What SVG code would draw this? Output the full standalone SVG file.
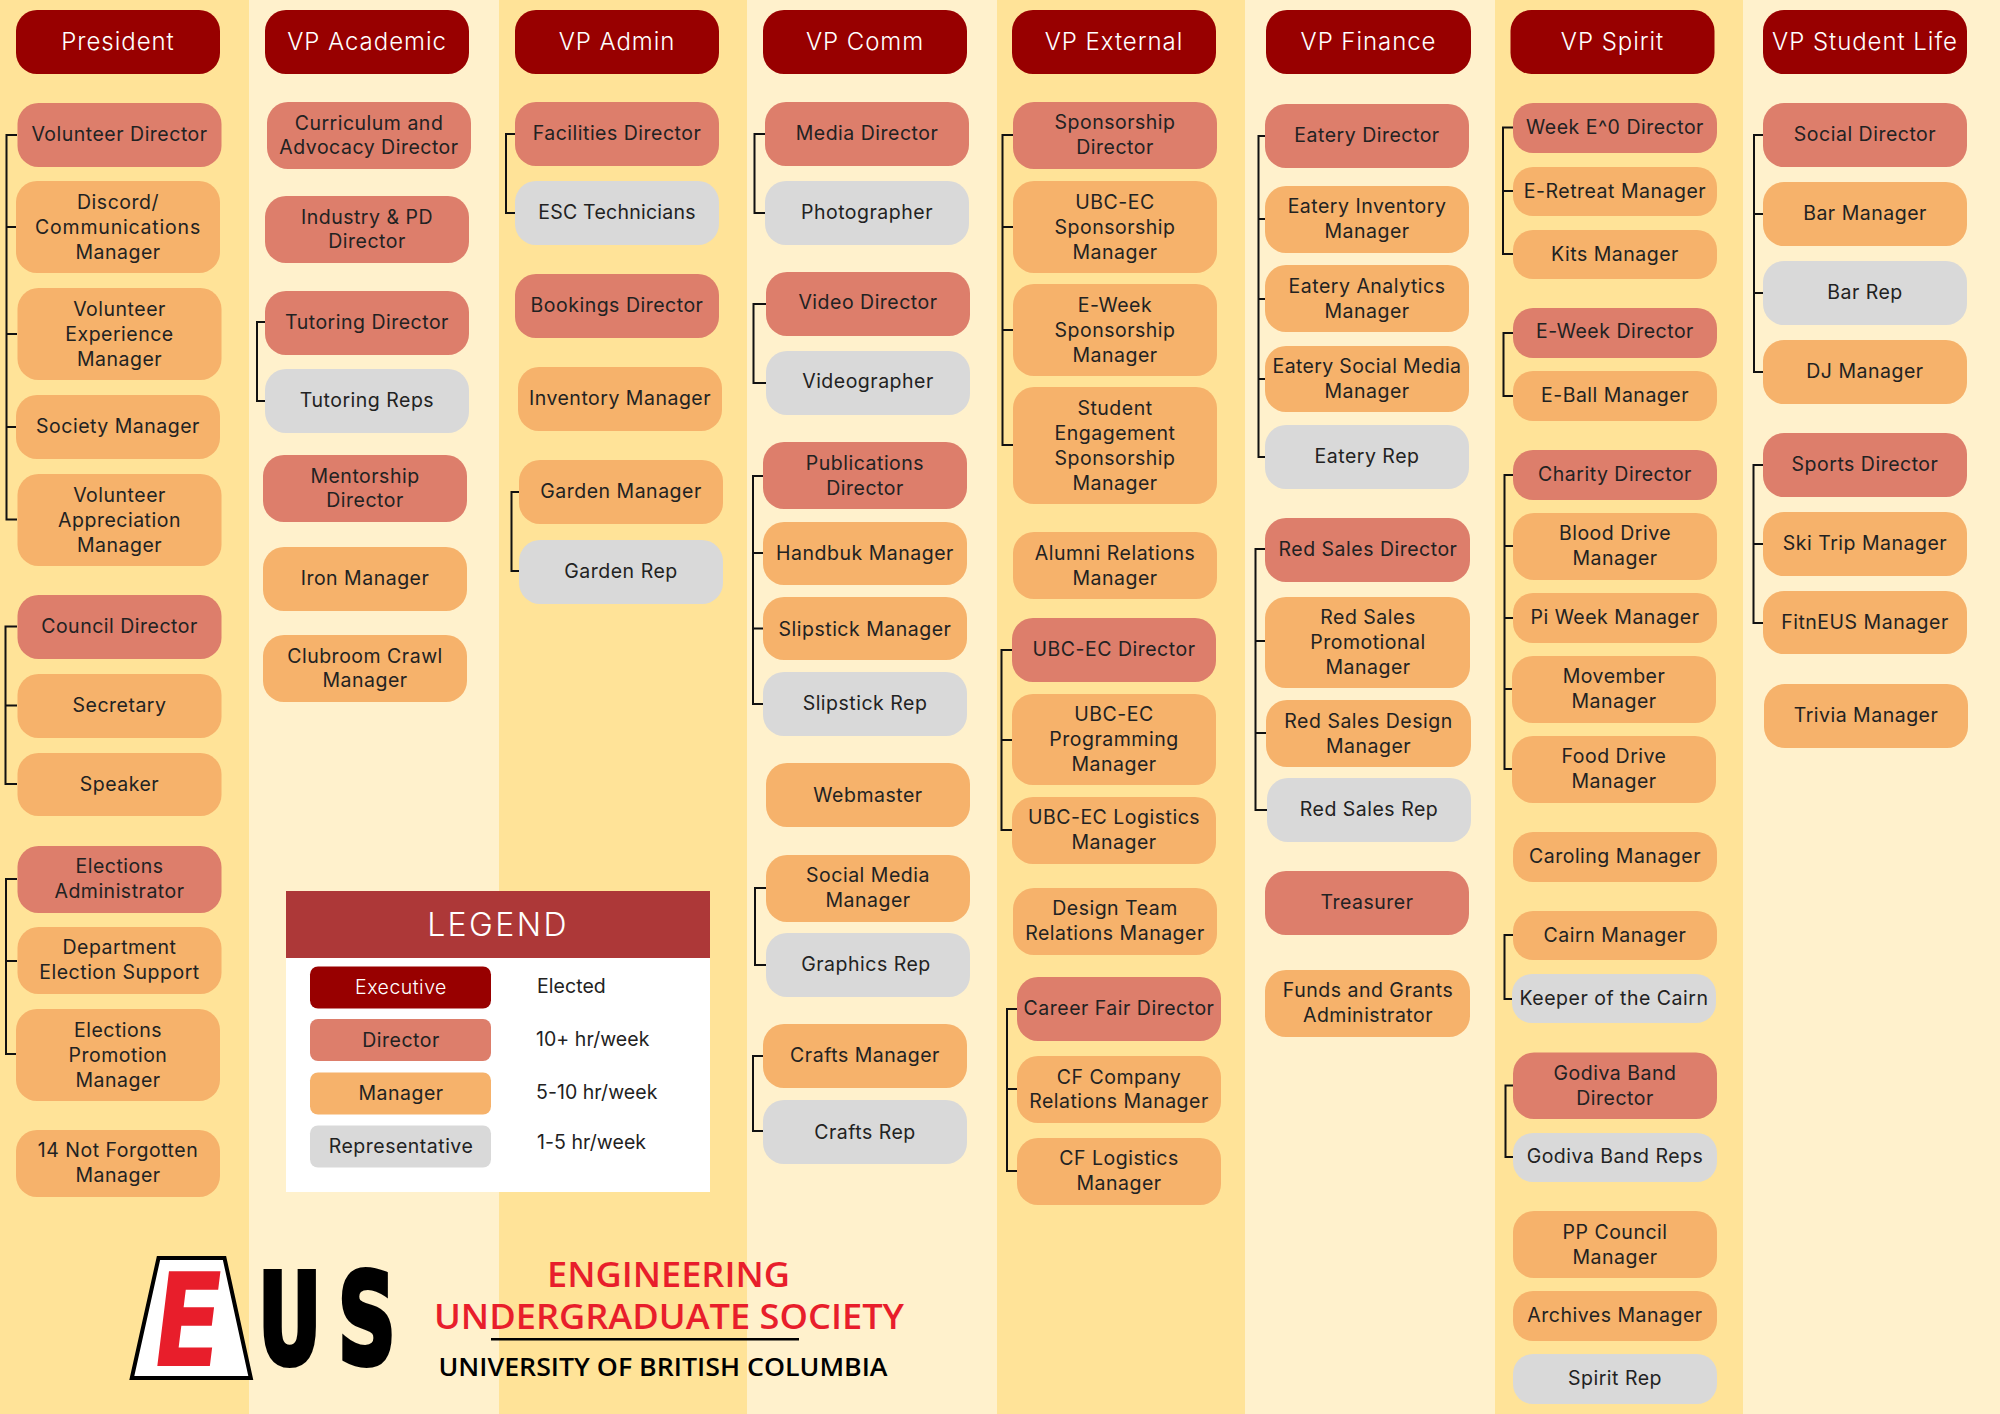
<svg xmlns="http://www.w3.org/2000/svg" width="2000" height="1414" viewBox="0 0 2000 1414">
<style>
.bd{fill:#ffe398}.bl{fill:#fff1cc}
rect.x{fill:#980000}rect.d{fill:#dd7e6b}rect.m{fill:#f6b26b}rect.r{fill:#d9d9d9}
text{font-family:Inter,"Noto Sans",sans-serif}
g.n text,g.lg text{font-size:19.5px;letter-spacing:.5px;fill:#222;text-anchor:middle;transform:translateY(.8px)}
g.h text{font-size:24px;font-weight:300;letter-spacing:.95px;fill:#fff;text-anchor:middle}
#connectors path{fill:none;stroke:#111;stroke-width:2}
.wm{font-family:"Open Sans",sans-serif;font-weight:600}
.lf{font-family:"DejaVu Sans",sans-serif;font-weight:700}
g.lg text.lv{font-size:19.5px;letter-spacing:.05px;text-anchor:start}
</style>
<g id="bands">
<rect class="bd" x="0" y="0" width="249" height="1414"/>
<rect class="bl" x="249" y="0" width="250" height="1414"/>
<rect class="bd" x="499" y="0" width="248" height="1414"/>
<rect class="bl" x="747" y="0" width="250" height="1414"/>
<rect class="bd" x="997" y="0" width="248" height="1414"/>
<rect class="bl" x="1245" y="0" width="250" height="1414"/>
<rect class="bd" x="1495" y="0" width="248" height="1414"/>
<rect class="bl" x="1743" y="0" width="257" height="1414"/>
</g>
<g id="connectors">
<path d="M17 135H6.5V519.5H17M6.5 227H16M6.5 334H17M6.5 427H16"/>
<path d="M17 626.5H5.5V784H17M5.5 705.5H17"/>
<path d="M17 879H6V1054H16M6 961H17"/>
<path d="M265 322H257V401H265"/>
<path d="M515 134H506V213H515"/>
<path d="M519 492H511.5V571H519"/>
<path d="M765 134H754.5V213H765"/>
<path d="M766 304H753.5V383H766"/>
<path d="M763 476H753V704H763M753 553H763M753 628.5H763"/>
<path d="M766 888H755V965H766"/>
<path d="M763 1056H753V1131H763"/>
<path d="M1013 135H1002.5V445H1013M1002.5 227H1013M1002.5 330H1013"/>
<path d="M1012 650H1001.5V830H1012M1001.5 740H1012"/>
<path d="M1017 1009H1007V1171H1017M1007 1089H1017"/>
<path d="M1265 136H1258.5V457H1265M1258.5 219H1265M1258.5 299H1265M1258.5 379H1265"/>
<path d="M1265 549H1255.5V810H1267M1255.5 641H1265M1255.5 733H1266"/>
<path d="M1513 127.5H1503V254H1513M1503 191H1513"/>
<path d="M1513 333H1503.5V396H1513"/>
<path d="M1513 475H1504.5V769H1512M1504.5 546H1513M1504.5 618H1513M1504.5 689H1512"/>
<path d="M1513 935H1504.5V999H1512"/>
<path d="M1513 1085.5H1505.5V1157H1513"/>
<path d="M1763 135H1754V372H1763M1754 214H1763M1754 293H1763"/>
<path d="M1763 465H1753.5V623H1763M1753.5 544H1763"/>
</g>
<g id="h1" class="h"><rect class="x" x="16" y="10" width="204" height="64" rx="21"/><text x="118" y="49.5">President</text></g>
<g id="h2" class="h"><rect class="x" x="265" y="10" width="204" height="64" rx="21"/><text x="367" y="49.5">VP Academic</text></g>
<g id="h3" class="h"><rect class="x" x="515" y="10" width="204" height="64" rx="21"/><text x="617" y="49.5">VP Admin</text></g>
<g id="h4" class="h"><rect class="x" x="763" y="10" width="204" height="64" rx="21"/><text x="865" y="49.5">VP Comm</text></g>
<g id="h5" class="h"><rect class="x" x="1012" y="10" width="204" height="64" rx="21"/><text x="1114" y="49.5">VP External</text></g>
<g id="h6" class="h"><rect class="x" x="1266" y="10" width="205" height="64" rx="21"/><text x="1368.5" y="49.5">VP Finance</text></g>
<g id="h7" class="h"><rect class="x" x="1510.5" y="10" width="204" height="64" rx="21"/><text x="1612.5" y="49.5">VP Spirit</text></g>
<g id="h8" class="h"><rect class="x" x="1763" y="10" width="204" height="64" rx="21"/><text x="1865" y="49.5">VP Student Life</text></g>

<g id="n-volunteer-director" class="n"><rect class="d" x="17.5" y="103" width="204" height="64" rx="21"/><text x="119.5" y="140">Volunteer Director</text></g>
<g id="n-discord" class="n"><rect class="m" x="16" y="181" width="204" height="92" rx="21"/><text y="208"><tspan x="118">Discord/</tspan><tspan x="118" dy="25" style="letter-spacing:.8px">Communications</tspan><tspan x="118" dy="25">Manager</tspan></text></g>
<g id="n-vol-exp" class="n"><rect class="m" x="17.5" y="288" width="204" height="92" rx="21"/><text y="315"><tspan x="119.5">Volunteer</tspan><tspan x="119.5" dy="25">Experience</tspan><tspan x="119.5" dy="25">Manager</tspan></text></g>
<g id="n-society" class="n"><rect class="m" x="16" y="395" width="204" height="64" rx="21"/><text x="118" y="432">Society Manager</text></g>
<g id="n-vol-app" class="n"><rect class="m" x="17.5" y="474" width="204" height="92" rx="21"/><text y="501"><tspan x="119.5">Volunteer</tspan><tspan x="119.5" dy="25">Appreciation</tspan><tspan x="119.5" dy="25">Manager</tspan></text></g>
<g id="n-council" class="n"><rect class="d" x="17.5" y="595" width="204" height="64" rx="21"/><text x="119.5" y="632">Council Director</text></g>
<g id="n-secretary" class="n"><rect class="m" x="17.5" y="674" width="204" height="64" rx="21"/><text x="119.5" y="711">Secretary</text></g>
<g id="n-speaker" class="n"><rect class="m" x="17.5" y="753" width="204" height="63" rx="21"/><text x="119.5" y="790">Speaker</text></g>
<g id="n-elections-admin" class="n"><rect class="d" x="17.5" y="846" width="204" height="67" rx="21"/><text y="872.5"><tspan x="119.5">Elections</tspan><tspan x="119.5" dy="24.5">Administrator</tspan></text></g>
<g id="n-department" class="n"><rect class="m" x="17.5" y="927" width="204" height="67" rx="21"/><text y="953.5"><tspan x="119.5">Department</tspan><tspan x="119.5" dy="24.5">Election Support</tspan></text></g>
<g id="n-elections-promo" class="n"><rect class="m" x="16" y="1009" width="204" height="92" rx="21"/><text y="1036"><tspan x="118">Elections</tspan><tspan x="118" dy="25">Promotion</tspan><tspan x="118" dy="25">Manager</tspan></text></g>
<g id="n-14-not" class="n"><rect class="m" x="16" y="1130" width="204" height="67" rx="21"/><text y="1156.5"><tspan x="118">14 Not Forgotten</tspan><tspan x="118" dy="24.5">Manager</tspan></text></g>

<g id="n-curriculum" class="n"><rect class="d" x="267" y="102" width="204" height="67" rx="21"/><text y="129"><tspan x="369">Curriculum and</tspan><tspan x="369" dy="24.5">Advocacy Director</tspan></text></g>
<g id="n-industry" class="n"><rect class="d" x="265" y="196" width="204" height="67" rx="21"/><text y="223"><tspan x="367">Industry &amp; PD</tspan><tspan x="367" dy="24.5">Director</tspan></text></g>
<g id="n-tutoring-dir" class="n"><rect class="d" x="265" y="291" width="204" height="64" rx="21"/><text x="367" y="328">Tutoring Director</text></g>
<g id="n-tutoring-reps" class="n"><rect class="r" x="265" y="369" width="204" height="64" rx="21"/><text x="367" y="406">Tutoring Reps</text></g>
<g id="n-mentorship" class="n"><rect class="d" x="263" y="455" width="204" height="67" rx="21"/><text y="482"><tspan x="365">Mentorship</tspan><tspan x="365" dy="24.5">Director</tspan></text></g>
<g id="n-iron" class="n"><rect class="m" x="263" y="547" width="204" height="64" rx="21"/><text x="365" y="584">Iron Manager</text></g>
<g id="n-clubroom" class="n"><rect class="m" x="263" y="635" width="204" height="67" rx="21"/><text y="662"><tspan x="365">Clubroom Crawl</tspan><tspan x="365" dy="24.5">Manager</tspan></text></g>

<g id="n-facilities" class="n"><rect class="d" x="515" y="102" width="204" height="64" rx="21"/><text x="617" y="139">Facilities Director</text></g>
<g id="n-esc" class="n"><rect class="r" x="515" y="181" width="204" height="64" rx="21"/><text x="617" y="218" style="letter-spacing:.25px">ESC Technicians</text></g>
<g id="n-bookings" class="n"><rect class="d" x="515" y="274" width="204" height="64" rx="21"/><text x="617" y="311">Bookings Director</text></g>
<g id="n-inventory" class="n"><rect class="m" x="518" y="367" width="204" height="64" rx="21"/><text x="620" y="404">Inventory Manager</text></g>
<g id="n-garden-mgr" class="n"><rect class="m" x="519" y="460" width="204" height="64" rx="21"/><text x="621" y="497">Garden Manager</text></g>
<g id="n-garden-rep" class="n"><rect class="r" x="519" y="540" width="204" height="64" rx="21"/><text x="621" y="577">Garden Rep</text></g>

<g id="n-media" class="n"><rect class="d" x="765" y="102" width="204" height="64" rx="21"/><text x="867" y="139">Media Director</text></g>
<g id="n-photographer" class="n"><rect class="r" x="765" y="181" width="204" height="64" rx="21"/><text x="867" y="218">Photographer</text></g>
<g id="n-video" class="n"><rect class="d" x="766" y="272" width="204" height="64" rx="21"/><text x="868" y="308">Video Director</text></g>
<g id="n-videographer" class="n"><rect class="r" x="766" y="351" width="204" height="64" rx="21"/><text x="868" y="387">Videographer</text></g>
<g id="n-publications" class="n"><rect class="d" x="763" y="442" width="204" height="67" rx="21"/><text y="469"><tspan x="865">Publications</tspan><tspan x="865" dy="25">Director</tspan></text></g>
<g id="n-handbuk" class="n"><rect class="m" x="763" y="522" width="204" height="63" rx="21"/><text x="865" y="559.5">Handbuk Manager</text></g>
<g id="n-slipstick-mgr" class="n"><rect class="m" x="763" y="597" width="204" height="63" rx="21"/><text x="865" y="635">Slipstick Manager</text></g>
<g id="n-slipstick-rep" class="n"><rect class="r" x="763" y="672" width="204" height="64" rx="21"/><text x="865" y="709">Slipstick Rep</text></g>
<g id="n-webmaster" class="n"><rect class="m" x="766" y="763" width="204" height="64" rx="21"/><text x="868" y="801.5">Webmaster</text></g>
<g id="n-social-media" class="n"><rect class="m" x="766" y="855" width="204" height="67" rx="21"/><text y="881.5"><tspan x="868">Social Media</tspan><tspan x="868" dy="24.5">Manager</tspan></text></g>
<g id="n-graphics" class="n"><rect class="r" x="766" y="933" width="204" height="64" rx="21"/><text x="866" y="970.5">Graphics Rep</text></g>
<g id="n-crafts-mgr" class="n"><rect class="m" x="763" y="1024" width="204" height="64" rx="21"/><text x="865" y="1061.5">Crafts Manager</text></g>
<g id="n-crafts-rep" class="n"><rect class="r" x="763" y="1100" width="204" height="64" rx="21"/><text x="865" y="1138">Crafts Rep</text></g>

<g id="n-sponsorship" class="n"><rect class="d" x="1013" y="102" width="204" height="67" rx="21"/><text y="128.5"><tspan x="1115">Sponsorship</tspan><tspan x="1115" dy="24.5">Director</tspan></text></g>
<g id="n-ubcec-sponsor" class="n"><rect class="m" x="1013" y="181" width="204" height="92" rx="21"/><text y="208"><tspan x="1115">UBC-EC</tspan><tspan x="1115" dy="25">Sponsorship</tspan><tspan x="1115" dy="25">Manager</tspan></text></g>
<g id="n-eweek-sponsor" class="n"><rect class="m" x="1013" y="284" width="204" height="92" rx="21"/><text y="311"><tspan x="1115">E-Week</tspan><tspan x="1115" dy="25">Sponsorship</tspan><tspan x="1115" dy="25">Manager</tspan></text></g>
<g id="n-student-eng" class="n"><rect class="m" x="1013" y="387" width="204" height="117" rx="21"/><text y="414.5"><tspan x="1115">Student</tspan><tspan x="1115" dy="25">Engagement</tspan><tspan x="1115" dy="25">Sponsorship</tspan><tspan x="1115" dy="25">Manager</tspan></text></g>
<g id="n-alumni" class="n"><rect class="m" x="1013" y="532" width="204" height="67" rx="21"/><text y="559.5"><tspan x="1115">Alumni Relations</tspan><tspan x="1115" dy="24.5">Manager</tspan></text></g>
<g id="n-ubcec-dir" class="n"><rect class="d" x="1012" y="618" width="204" height="64" rx="21"/><text x="1114" y="655">UBC-EC Director</text></g>
<g id="n-ubcec-prog" class="n"><rect class="m" x="1012" y="694" width="204" height="91" rx="21"/><text y="720"><tspan x="1114">UBC-EC</tspan><tspan x="1114" dy="25">Programming</tspan><tspan x="1114" dy="25">Manager</tspan></text></g>
<g id="n-ubcec-log" class="n"><rect class="m" x="1012" y="797" width="204" height="67" rx="21"/><text y="823.5"><tspan x="1114">UBC-EC Logistics</tspan><tspan x="1114" dy="24.5">Manager</tspan></text></g>
<g id="n-design-team" class="n"><rect class="m" x="1013" y="888" width="204" height="67" rx="21"/><text y="914.5"><tspan x="1115">Design Team</tspan><tspan x="1115" dy="24.5">Relations Manager</tspan></text></g>
<g id="n-career" class="n"><rect class="d" x="1017" y="977" width="204" height="64" rx="21"/><text x="1119" y="1014">Career Fair Director</text></g>
<g id="n-cf-company" class="n"><rect class="m" x="1017" y="1056" width="204" height="67" rx="21"/><text y="1083"><tspan x="1119">CF Company</tspan><tspan x="1119" dy="24">Relations Manager</tspan></text></g>
<g id="n-cf-log" class="n"><rect class="m" x="1017" y="1138" width="204" height="67" rx="21"/><text y="1164"><tspan x="1119">CF Logistics</tspan><tspan x="1119" dy="25">Manager</tspan></text></g>

<g id="n-eatery-dir" class="n"><rect class="d" x="1265" y="104" width="204" height="64" rx="21"/><text x="1367" y="141.5">Eatery Director</text></g>
<g id="n-eatery-inv" class="n"><rect class="m" x="1265" y="186" width="204" height="67" rx="21"/><text y="212.5"><tspan x="1367">Eatery Inventory</tspan><tspan x="1367" dy="24.5">Manager</tspan></text></g>
<g id="n-eatery-ana" class="n"><rect class="m" x="1265" y="265" width="204" height="67" rx="21"/><text y="292.5"><tspan x="1367">Eatery Analytics</tspan><tspan x="1367" dy="24.5">Manager</tspan></text></g>
<g id="n-eatery-soc" class="n"><rect class="m" x="1265" y="346" width="204" height="66" rx="21"/><text y="372.5"><tspan x="1367" style="letter-spacing:.35px">Eatery Social Media</tspan><tspan x="1367" dy="24.5">Manager</tspan></text></g>
<g id="n-eatery-rep" class="n"><rect class="r" x="1265" y="425" width="204" height="64" rx="21"/><text x="1367" y="462.5">Eatery Rep</text></g>
<g id="n-red-dir" class="n"><rect class="d" x="1265" y="518" width="205" height="64" rx="21"/><text x="1368" y="555">Red Sales Director</text></g>
<g id="n-red-promo" class="n"><rect class="m" x="1265" y="597" width="205" height="91" rx="21"/><text y="623"><tspan x="1368">Red Sales</tspan><tspan x="1368" dy="25">Promotional</tspan><tspan x="1368" dy="25">Manager</tspan></text></g>
<g id="n-red-design" class="n"><rect class="m" x="1266" y="700" width="205" height="67" rx="21"/><text y="727"><tspan x="1368.5">Red Sales Design</tspan><tspan x="1368.5" dy="25">Manager</tspan></text></g>
<g id="n-red-rep" class="n"><rect class="r" x="1267" y="778" width="204" height="64" rx="21"/><text x="1369" y="815">Red Sales Rep</text></g>
<g id="n-treasurer" class="n"><rect class="d" x="1265" y="871" width="204" height="64" rx="21"/><text x="1367" y="908.5">Treasurer</text></g>
<g id="n-funds" class="n"><rect class="m" x="1265" y="970" width="205" height="67" rx="21"/><text y="996"><tspan x="1368">Funds and Grants</tspan><tspan x="1368" dy="25">Administrator</tspan></text></g>

<g id="n-week0" class="n"><rect class="d" x="1513" y="103" width="204" height="50" rx="20"/><text x="1615" y="133">Week E^0 Director</text></g>
<g id="n-eretreat" class="n"><rect class="m" x="1513" y="167" width="204" height="49" rx="20"/><text x="1615" y="197">E-Retreat Manager</text></g>
<g id="n-kits" class="n"><rect class="m" x="1513" y="230" width="204" height="49" rx="20"/><text x="1615" y="260">Kits Manager</text></g>
<g id="n-eweek" class="n"><rect class="d" x="1513" y="308" width="204" height="50" rx="20"/><text x="1615" y="337.5">E-Week Director</text></g>
<g id="n-eball" class="n"><rect class="m" x="1513" y="371" width="204" height="50" rx="20"/><text x="1615" y="401">E-Ball Manager</text></g>
<g id="n-charity" class="n"><rect class="d" x="1513" y="450" width="204" height="50" rx="20"/><text x="1615" y="480">Charity Director</text></g>
<g id="n-blood" class="n"><rect class="m" x="1513" y="513" width="204" height="67" rx="21"/><text y="539"><tspan x="1615">Blood Drive</tspan><tspan x="1615" dy="25">Manager</tspan></text></g>
<g id="n-pi" class="n"><rect class="m" x="1513" y="593" width="204" height="50" rx="20"/><text x="1615" y="623">Pi Week Manager</text></g>
<g id="n-movember" class="n"><rect class="m" x="1512" y="656" width="204" height="67" rx="21"/><text y="682"><tspan x="1614">Movember</tspan><tspan x="1614" dy="25">Manager</tspan></text></g>
<g id="n-food" class="n"><rect class="m" x="1512" y="736" width="204" height="67" rx="21"/><text y="762"><tspan x="1614">Food Drive</tspan><tspan x="1614" dy="25">Manager</tspan></text></g>
<g id="n-caroling" class="n"><rect class="m" x="1513" y="832" width="204" height="50" rx="20"/><text x="1615" y="862">Caroling Manager</text></g>
<g id="n-cairn" class="n"><rect class="m" x="1513" y="911" width="204" height="49" rx="20"/><text x="1615" y="941">Cairn Manager</text></g>
<g id="n-keeper" class="n"><rect class="r" x="1512" y="974" width="204" height="49" rx="20"/><text x="1614" y="1004">Keeper of the Cairn</text></g>
<g id="n-godiva" class="n"><rect class="d" x="1513" y="1052.5" width="204" height="66.5" rx="21"/><text y="1079"><tspan x="1615">Godiva Band</tspan><tspan x="1615" dy="25">Director</tspan></text></g>
<g id="n-godiva-reps" class="n"><rect class="r" x="1513" y="1133" width="204" height="49" rx="20"/><text x="1615" y="1162">Godiva Band Reps</text></g>
<g id="n-pp" class="n"><rect class="m" x="1513" y="1211" width="204" height="67" rx="21"/><text y="1238"><tspan x="1615">PP Council</tspan><tspan x="1615" dy="25">Manager</tspan></text></g>
<g id="n-archives" class="n"><rect class="m" x="1513" y="1291" width="204" height="50" rx="20"/><text x="1615" y="1321">Archives Manager</text></g>
<g id="n-spirit-rep" class="n"><rect class="r" x="1513" y="1354" width="204" height="50" rx="20"/><text x="1615" y="1384">Spirit Rep</text></g>

<g id="n-social" class="n"><rect class="d" x="1763" y="103" width="204" height="64" rx="21"/><text x="1865" y="140">Social Director</text></g>
<g id="n-bar-mgr" class="n"><rect class="m" x="1763" y="182" width="204" height="64" rx="21"/><text x="1865" y="219">Bar Manager</text></g>
<g id="n-bar-rep" class="n"><rect class="r" x="1763" y="261" width="204" height="64" rx="21"/><text x="1865" y="298">Bar Rep</text></g>
<g id="n-dj" class="n"><rect class="m" x="1763" y="340" width="204" height="64" rx="21"/><text x="1865" y="377">DJ Manager</text></g>
<g id="n-sports" class="n"><rect class="d" x="1763" y="433" width="204" height="64" rx="21"/><text x="1865" y="470">Sports Director</text></g>
<g id="n-ski" class="n"><rect class="m" x="1763" y="512" width="204" height="64" rx="21"/><text x="1865" y="549">Ski Trip Manager</text></g>
<g id="n-fitneus" class="n"><rect class="m" x="1763" y="591" width="204" height="63" rx="21"/><text x="1865" y="628">FitnEUS Manager</text></g>
<g id="n-trivia" class="n"><rect class="m" x="1764" y="684" width="204" height="64" rx="21"/><text x="1866" y="721.5">Trivia Manager</text></g>

<g id="legend" class="lg">
<rect x="286" y="891" width="424" height="301" fill="#fff"/>
<rect x="286" y="891" width="424" height="67" fill="#ad3838"/>
<text x="498" y="935" style="font-size:32px;fill:#fff;font-weight:300;letter-spacing:2.4px">LEGEND</text>
<rect class="x" x="310" y="966.5" width="181" height="42" rx="8"/><text x="401" y="993.5" style="fill:#fff;font-weight:300">Executive</text>
<rect class="d" x="310" y="1019" width="181" height="42" rx="8"/><text x="401" y="1046.5">Director</text>
<rect class="m" x="310" y="1072.5" width="181" height="42" rx="8"/><text x="401" y="1099.5">Manager</text>
<rect class="r" x="310" y="1125.5" width="181" height="42" rx="8"/><text x="401" y="1152.5">Representative</text>
<text class="lv" x="537" y="992">Elected</text>
<text class="lv" x="536" y="1045">10+ hr/week</text>
<text class="lv" x="536" y="1098">5-10 hr/week</text>
<text class="lv" x="537" y="1148">1-5 hr/week</text>
</g>
<g id="logo">
<polygon points="158.5,1258 224.5,1258 250.8,1378 131.8,1378" fill="#fff" stroke="#000" stroke-width="4"/>
<text class="lf" transform="translate(148 1366) skewX(-7) scale(.78 1)" font-size="130" fill="#e81e2b">E</text>
<text class="lf" transform="translate(258.3 1363) scale(.62 1)" font-size="125" fill="#000" stroke="#000" stroke-width="6">U</text>
<text class="lf" transform="translate(338.1 1363) scale(.64 1)" font-size="125" fill="#000" stroke="#000" stroke-width="6">S</text>
<text class="wm" x="547" y="1287" font-size="34" fill="#e81e2b" textLength="243" lengthAdjust="spacingAndGlyphs">ENGINEERING</text>
<text class="wm" x="434" y="1329" font-size="34" fill="#e81e2b" textLength="470" lengthAdjust="spacingAndGlyphs">UNDERGRADUATE SOCIETY</text>
<rect x="491" y="1338" width="308" height="2.5" fill="#000"/>
<text class="wm" x="438.5" y="1376" font-size="25" fill="#000" textLength="449" lengthAdjust="spacingAndGlyphs">UNIVERSITY OF BRITISH COLUMBIA</text>
</g>
</svg>
